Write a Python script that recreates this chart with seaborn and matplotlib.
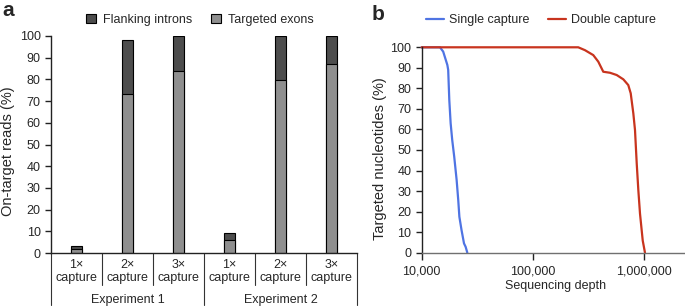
import pandas as pd
import numpy as np
import matplotlib
matplotlib.use("Agg")
import matplotlib.pyplot as plt
import matplotlib.ticker as mticker
import matplotlib.transforms as mtransforms
from matplotlib.patches import Patch
from matplotlib.lines import Line2D
import seaborn as sns

# ---- panel a data
experiments = ["Experiment 1", "Experiment 2"]
captures = ["1\u00d7", "2\u00d7", "3\u00d7"]
exon_pct = [2, 73.5, 84, 6, 79.5, 87]
total_pct = [3, 98, 100, 9, 100, 100]

# ---- panel b data (coverage curves)
single_depth = [10000, 14600, 15600, 17000, 17300, 17700, 18200, 18800, 19600,
                20600, 21300, 21800, 22800, 24000, 24800, 25700]
single_pct = [100, 100, 97.9, 91.4, 89, 74.3, 63, 54.9, 46.7,
              35.4, 25.6, 17.5, 11, 4.5, 2.9, 0]
double_depth = [10000, 255000, 293000, 348000, 386000, 428000, 492000, 565000,
                648000, 718000, 755000, 797000, 825000, 855000, 884000, 915000,
                968000, 1014000]
double_pct = [100, 100, 98.6, 96.2, 93, 88.1, 87.6, 86.5,
              84.4, 81.6, 77.6, 67.8, 59.7, 43.4, 30.4, 19,
              5.9, 0]

dark_grey = "#4d4d4d"
light_grey = "#8f8f8f"
blue = "#4f74e3"
red = "#c8341e"

sns.set_style("ticks")
plt.rcParams["font.family"] = ["Liberation Sans", "DejaVu Sans"]
plt.rcParams["font.size"] = 9
plt.rcParams["xtick.labelsize"] = 9
plt.rcParams["ytick.labelsize"] = 9

fig = plt.figure(figsize=(6.85, 3.06), dpi=100)
ax_a = fig.add_axes([51 / 685, 53 / 306, 306 / 685, 217 / 306])
ax_b = fig.add_axes([421.7 / 685, 53.3 / 306, 263.3 / 685, 205.4 / 306])

# ---------------- panel a
groups = [f"{e}|{c}" for e in experiments for c in captures]
df_a = pd.DataFrame({"group": groups, "total": total_pct, "exons": exon_pct})
sns.barplot(data=df_a, x="group", y="total", order=groups, color=dark_grey,
            saturation=1, edgecolor="black", linewidth=0.8, width=0.22,
            errorbar=None, ax=ax_a)
sns.barplot(data=df_a, x="group", y="exons", order=groups, color=light_grey,
            saturation=1, edgecolor="black", linewidth=0.8, width=0.22,
            errorbar=None, ax=ax_a)

ax_a.set_xlim(-0.5, len(groups) - 0.5)
ax_a.set_ylim(0, 100)
ax_a.set_yticks(range(0, 101, 10))
ax_a.set_xticks(range(len(groups)))
ax_a.set_xticklabels([f"{c}\ncapture" for e in experiments for c in captures])
ax_a.tick_params(axis="x", length=0, pad=4)
ax_a.tick_params(axis="y", length=4, width=1, pad=3.5, color="#222222")
ax_a.set_xlabel("")
ax_a.set_ylabel("On-target reads (%)", fontsize=10.5)
ax_a.yaxis.set_label_coords(-0.118, 0.47)
sns.despine(ax=ax_a)
for s in ["left", "bottom"]:
    ax_a.spines[s].set_color("#222222")
    ax_a.spines[s].set_linewidth(1)

# table-like separators under the axis
trans = mtransforms.blended_transform_factory(ax_a.transData, ax_a.transAxes)
n_cap = len(captures)
for i in range(len(groups) + 1):
    xpos = i - 0.5
    ybot = -0.24 if i % n_cap == 0 else -0.147
    ax_a.plot([xpos, xpos], [0, ybot], color="#333333", lw=0.8,
              transform=trans, clip_on=False)
for j, e in enumerate(experiments):
    ax_a.text(j * n_cap + (n_cap - 1) / 2, -0.217, e, ha="center", va="center",
              transform=trans)

handles_a = [Patch(facecolor=dark_grey, edgecolor="black", linewidth=0.8, label="Flanking introns"),
             Patch(facecolor=light_grey, edgecolor="black", linewidth=0.8, label="Targeted exons")]
fig.legend(handles=handles_a, loc="center", bbox_to_anchor=(0.292, 0.935), ncol=2,
           frameon=False, handlelength=0.8, handleheight=0.8, handletextpad=0.55,
           columnspacing=1.5, fontsize=9)

# ---------------- panel b
df_b = pd.concat([
    pd.DataFrame({"depth": single_depth, "pct": single_pct, "run": "Single capture"}),
    pd.DataFrame({"depth": double_depth, "pct": double_pct, "run": "Double capture"}),
])
sns.lineplot(data=df_b, x="depth", y="pct", hue="run", sort=False,
             palette={"Single capture": blue, "Double capture": red},
             linewidth=1.6, estimator=None, legend=False, ax=ax_b)
for ln in ax_b.lines:
    ln.set_clip_on(False)

ax_b.set_xscale("log")
ax_b.set_xlim(10000, 10 ** (4 + 263.3 / 111.3))
ax_b.set_ylim(0, 100)
ax_b.set_yticks(range(0, 101, 10))
ax_b.xaxis.set_major_locator(mticker.FixedLocator([1e4, 1e5, 1e6]))
ax_b.xaxis.set_minor_locator(mticker.NullLocator())
ax_b.xaxis.set_major_formatter(mticker.FuncFormatter(lambda v, p: f"{int(v):,}"))
ax_b.tick_params(axis="y", length=4, width=1, pad=3.5, color="#222222")
ax_b.tick_params(axis="x", length=5, width=1, pad=4, color="#222222")
ax_b.set_xlabel("Sequencing depth")
ax_b.set_ylabel("Targeted nucleotides (%)", fontsize=10.5)
ax_b.yaxis.set_label_coords(-0.132, 0.46)
ax_b.xaxis.set_label_coords(0.51, -0.133)
sns.despine(ax=ax_b)
ax_b.spines["left"].set_color("#222222")
ax_b.spines["bottom"].set_color("#707070")
for s in ["left", "bottom"]:
    ax_b.spines[s].set_linewidth(1)

handles_b = [Line2D([], [], color=blue, lw=1.6, label="Single capture"),
             Line2D([], [], color=red, lw=1.6, label="Double capture")]
fig.legend(handles=handles_b, loc="center", bbox_to_anchor=(0.79, 0.935), ncol=2,
           frameon=False, handlelength=1.4, handletextpad=0.45,
           columnspacing=1.5, fontsize=9)

fig.text(0.003, 0.949, "a", fontsize=15, fontweight="bold", va="baseline")
fig.text(0.5426, 0.935, "b", fontsize=15, fontweight="bold", va="baseline")

fig.savefig("out.png", dpi=100)
